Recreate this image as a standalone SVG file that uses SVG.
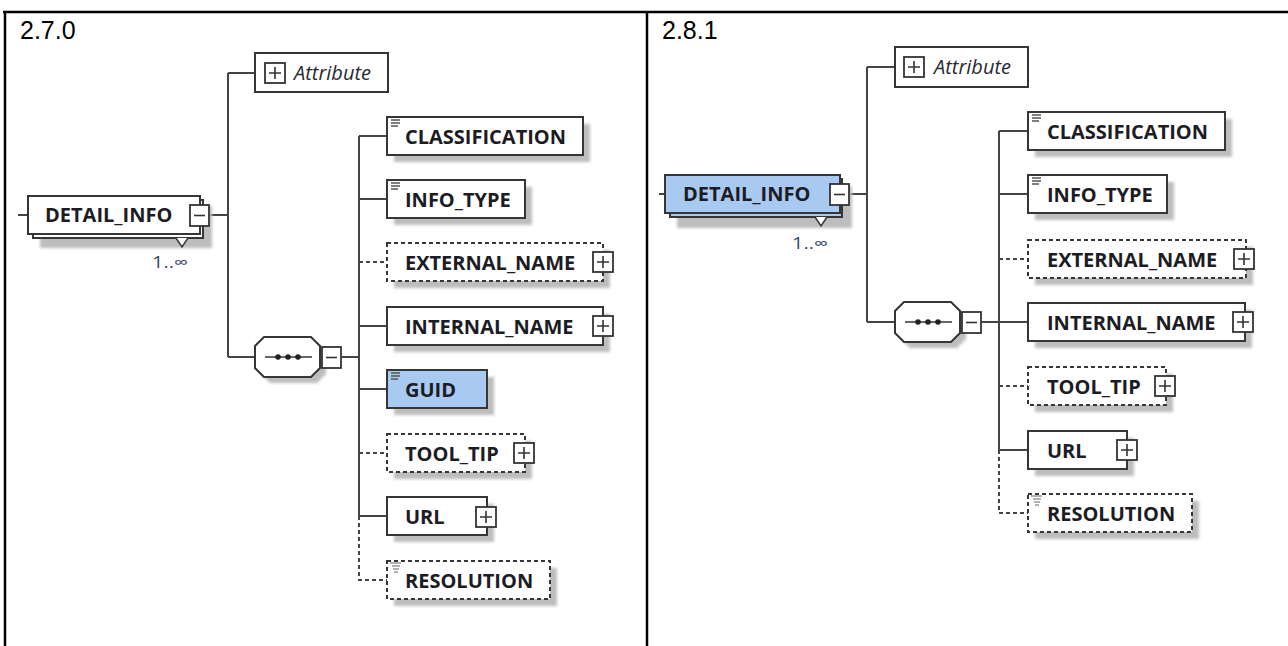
<svg xmlns="http://www.w3.org/2000/svg" width="1288" height="646" viewBox="0 0 1288 646">
<defs>
<filter id="blur" x="-10%" y="-20%" width="130%" height="150%"><feGaussianBlur stdDeviation="1.6"/></filter>
<g id="plus"><rect x="0" y="0" width="20" height="20" fill="#fff" stroke="#333" stroke-width="1.8"/><path d="M4 10H16M10 4V16" stroke="#333" stroke-width="1.6"/></g>
<g id="minus"><rect x="0" y="0" width="19" height="21" fill="#fff" stroke="#333" stroke-width="1.8"/><path d="M4 10.5H15" stroke="#333" stroke-width="1.6"/></g>
<g id="simple"><path d="M0 1H9M0 4H9M0 7H7" stroke="#555" stroke-width="1.3"/></g>
<g id="simpleopt"><path d="M0 1H11M2 4H10M3 7H9M4 10H8" stroke="#666" stroke-width="1.2"/></g>
</defs>
<style>
.frame{stroke:#000;stroke-width:2.5;fill:none}
.box{fill:#fff;stroke:#363636;stroke-width:2}
.dash{stroke-dasharray:4 3}
.sel{fill:#a9caf0}
.shadow{fill:#bdbdbd;filter:url(#blur)}
.conn{stroke:#444;stroke-width:2;fill:none}
.cdash{stroke-dasharray:4 3}
.lbl{font-family:"Open Sans","Noto Sans",sans-serif;font-weight:bold;font-size:20px;fill:#1c1c24}
.attr{font-family:"Open Sans","Noto Sans",sans-serif;font-style:italic;font-size:20px;fill:#2a2a33}
.title{font-family:"Liberation Sans",Arial,sans-serif;font-size:25px;fill:#000}
.mult{font-family:"Open Sans","Noto Sans",sans-serif;font-size:16px;fill:#3c4a6b}
</style>
<rect width="1288" height="646" fill="#fff"/>
<g id="table">
<path class="frame" d="M3 12H1288M5 12V646M647 12V646"/>
<text class="title" x="20" y="39">2.7.0</text>
<text class="title" x="662" y="39">2.8.1</text>
</g>

<g id="connectors">
<path class="conn" d="M18 215H28M208 215H228M228 73V357M228 73H255M228 357H255M342 357H359M359 136V516M359 136H387M359 199H387M359 326H387M359 389H387M359 516H387"/>
<path class="conn cdash" d="M359 262H387M359 453H387M359 516V580H387"/>
<path class="conn" d="M659 194H665M849 194H867M867 67V322M867 67H895M867 322H895M982 322H1028M999 131V450M999 131H1028M999 194H1028M999 450H1028"/>
<path class="conn cdash" d="M999 259H1028M999 386H1028M999 450V513H1028"/>
</g>

<g id="l_detail_info">
<rect class="shadow" x="40" y="206" width="172" height="42"/>
<rect class="box" x="33" y="200" width="170" height="38"/>
<rect class="box" x="28" y="196" width="172" height="38"/>
<polyline points="176,238 182,247 188,238" fill="#fff" stroke="#363636" stroke-width="1.5"/>
<use href="#minus" x="190" y="205"/>
<text class="lbl" x="45" y="222">DETAIL_INFO</text>
<text class="mult" x="152" y="268" textLength="36" lengthAdjust="spacingAndGlyphs">1..∞</text>
</g>
<g id="l_attribute">
<rect class="box" x="255" y="53" width="133" height="39"/>
<use href="#plus" x="265" y="63"/>
<text class="attr" x="294" y="80">Attribute</text>
</g>
<g id="l_sequence">
<polygon class="shadow" points="270,343 317,343 326,352 326,374 317,383 270,383 261,374 261,352"/>
<polygon class="box" points="264,337 311,337 320,346 320,368 311,377 264,377 255,368 255,346"/>
<path d="M265 357H312" stroke="#333" stroke-width="1.6"/>
<circle cx="278" cy="357" r="2.8" fill="#222"/><circle cx="288" cy="357" r="2.8" fill="#222"/><circle cx="298" cy="357" r="2.8" fill="#222"/>
<use href="#minus" x="322" y="347"/>
</g>
<g id="l_classification">
<rect class="shadow" x="394" y="124" width="196" height="38"/>
<rect class="box" x="387" y="117" width="196" height="38"/>
<use href="#simple" x="391" y="119"/>
<text class="lbl" x="405" y="144">CLASSIFICATION</text>
</g>
<g id="l_info_type">
<rect class="shadow" x="394" y="187" width="138" height="38"/>
<rect class="box" x="387" y="180" width="138" height="38"/>
<use href="#simple" x="391" y="182"/>
<text class="lbl" x="405" y="207">INFO_TYPE</text>
</g>
<g id="l_external_name">
<rect class="shadow" x="394" y="250" width="216" height="38"/>
<rect class="box dash" x="387" y="243" width="216" height="38"/>
<use href="#plus" x="593" y="252"/>
<text class="lbl" x="405" y="270">EXTERNAL_NAME</text>
</g>
<g id="l_internal_name">
<rect class="shadow" x="394" y="314" width="216" height="38"/>
<rect class="box" x="387" y="307" width="216" height="38"/>
<use href="#plus" x="593" y="316"/>
<text class="lbl" x="405" y="334">INTERNAL_NAME</text>
</g>
<g id="l_guid">
<rect class="shadow" x="394" y="377" width="100" height="38"/>
<rect class="box sel" x="387" y="370" width="100" height="38"/>
<use href="#simple" x="391" y="372"/>
<text class="lbl" x="405" y="397">GUID</text>
</g>
<g id="l_tool_tip">
<rect class="shadow" x="394" y="441" width="138" height="38"/>
<rect class="box dash" x="387" y="434" width="138" height="38"/>
<use href="#plus" x="514" y="443"/>
<text class="lbl" x="405" y="461">TOOL_TIP</text>
</g>
<g id="l_url">
<rect class="shadow" x="394" y="504" width="100" height="38"/>
<rect class="box" x="387" y="497" width="100" height="38"/>
<use href="#plus" x="476" y="507"/>
<text class="lbl" x="405" y="524">URL</text>
</g>
<g id="l_resolution">
<rect class="shadow" x="394" y="568" width="163" height="38"/>
<rect class="box dash" x="387" y="561" width="163" height="38"/>
<use href="#simpleopt" x="390" y="562"/>
<text class="lbl" x="405" y="588">RESOLUTION</text>
</g>

<g id="r_detail_info">
<rect class="shadow" x="677" y="186" width="175" height="42"/>
<rect class="box sel" x="670" y="179" width="172" height="38"/>
<rect class="box sel" x="665" y="175" width="175" height="38"/>
<polyline points="815,217 821,226 827,217" fill="#fff" stroke="#363636" stroke-width="1.5"/>
<use href="#minus" x="830" y="184"/>
<text class="lbl" x="683" y="201">DETAIL_INFO</text>
<text class="mult" x="792" y="249" textLength="36" lengthAdjust="spacingAndGlyphs">1..∞</text>
</g>
<g id="r_attribute">
<rect class="box" x="895" y="47" width="133" height="40"/>
<use href="#plus" x="904" y="57"/>
<text class="attr" x="934" y="74">Attribute</text>
</g>
<g id="r_sequence">
<polygon class="shadow" points="910,308 957,308 966,317 966,339 957,348 910,348 901,339 901,317"/>
<polygon class="box" points="904,302 951,302 960,311 960,333 951,342 904,342 895,333 895,311"/>
<path d="M905 322H952" stroke="#333" stroke-width="1.6"/>
<circle cx="918" cy="322" r="2.8" fill="#222"/><circle cx="928" cy="322" r="2.8" fill="#222"/><circle cx="938" cy="322" r="2.8" fill="#222"/>
<use href="#minus" x="962" y="312"/>
</g>
<g id="r_classification">
<rect class="shadow" x="1035" y="119" width="197" height="38"/>
<rect class="box" x="1028" y="112" width="197" height="38"/>
<use href="#simple" x="1032" y="114"/>
<text class="lbl" x="1047" y="139">CLASSIFICATION</text>
</g>
<g id="r_info_type">
<rect class="shadow" x="1035" y="182" width="139" height="38"/>
<rect class="box" x="1028" y="175" width="139" height="38"/>
<use href="#simple" x="1032" y="177"/>
<text class="lbl" x="1047" y="202">INFO_TYPE</text>
</g>
<g id="r_external_name">
<rect class="shadow" x="1035" y="247" width="218" height="38"/>
<rect class="box dash" x="1028" y="240" width="218" height="38"/>
<use href="#plus" x="1234" y="249"/>
<text class="lbl" x="1047" y="267">EXTERNAL_NAME</text>
</g>
<g id="r_internal_name">
<rect class="shadow" x="1035" y="310" width="217" height="38"/>
<rect class="box" x="1028" y="303" width="217" height="38"/>
<use href="#plus" x="1233" y="312"/>
<text class="lbl" x="1047" y="330">INTERNAL_NAME</text>
</g>
<g id="r_tool_tip">
<rect class="shadow" x="1035" y="374" width="138" height="38"/>
<rect class="box dash" x="1028" y="367" width="138" height="38"/>
<use href="#plus" x="1155" y="376"/>
<text class="lbl" x="1047" y="394">TOOL_TIP</text>
</g>
<g id="r_url">
<rect class="shadow" x="1035" y="438" width="99" height="38"/>
<rect class="box" x="1028" y="431" width="99" height="38"/>
<use href="#plus" x="1117" y="440"/>
<text class="lbl" x="1047" y="458">URL</text>
</g>
<g id="r_resolution">
<rect class="shadow" x="1035" y="501" width="164" height="38"/>
<rect class="box dash" x="1028" y="494" width="164" height="38"/>
<use href="#simpleopt" x="1031" y="495"/>
<text class="lbl" x="1047" y="521">RESOLUTION</text>
</g>
</svg>
